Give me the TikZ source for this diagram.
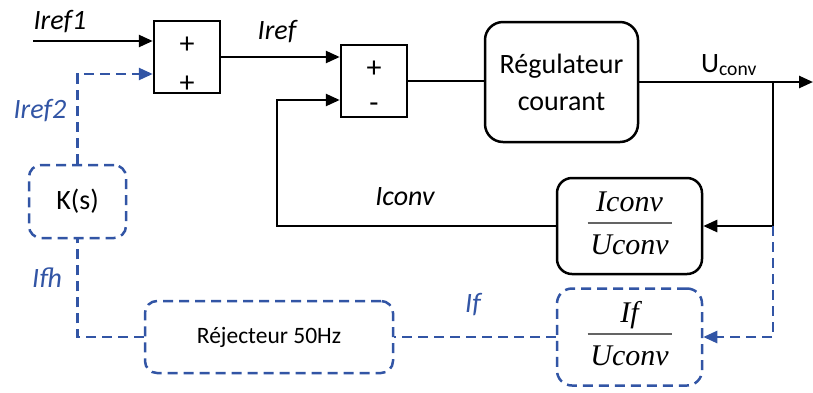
\documentclass[tikz,border=0pt]{standalone}
\usepackage{fontspec}
\setmainfont{Carlito}
\newfontfamily\fracfont{Liberation Serif}
\usetikzlibrary{arrows.meta, positioning}

\definecolor{dblue}{RGB}{50,85,165}
\definecolor{bargray}{RGB}{100,100,100}

\newcommand{\lblsize}{\fontsize{28}{34}\selectfont}
% fraction with a grey bar, as in the transfer blocks
\newcommand{\bfrac}[2]{{\fontsize{30}{36}\selectfont\fracfont\itshape
	\renewcommand{\arraystretch}{0}%
	\begin{tabular}{@{}c@{}}
		\rule[-10pt]{0pt}{32pt}#1\\
		\textcolor{bargray}{\rule{84pt}{2pt}}\\
		\rule[-8pt]{0pt}{39pt}#2
	\end{tabular}}}

\begin{document}
\begin{tikzpicture}[
		x=1pt, y=-1pt,
		line width=2.5pt,
		font=\lblsize,
		sumbox/.style={draw, minimum width=66pt, minimum height=72pt, inner sep=0pt},
		regbox/.style={draw, rounded corners=18pt, align=center, inner sep=0pt},
		dblk/.style={draw=dblue, dash pattern=on 10pt off 6pt, rounded corners=12pt, align=center, inner sep=0pt},
		sign/.style={font=\fontsize{30}{34}\selectfont, inner sep=0pt},
		lbl/.style={font=\lblsize\itshape, anchor=base, inner sep=0pt},
		blbl/.style={lbl, text=dblue},
		arr/.style={-{Triangle[length=14pt,width=12pt]}},
		dline/.style={color=dblue, dash pattern=on 10pt off 6pt},
		darr/.style={dline, arr}
		]
		
		\useasboundingbox (0,0) rectangle (813,392);
		
		% Summing points
		\node[sumbox] (sum1) at (187,57) {};
		\node[sumbox] (sum2) at (374,81) {};
		\node[sign] (p11) at (187,45) {+};
		\node[sign] (p12) at (187,84) {+};
		\node[sign] (p21) at (374,69) {+};
		\node[sign] (m22) at (374,108) {-};
		
		% Controller and transfer blocks
		\node[regbox, minimum width=153pt, minimum height=120pt, font=\fontsize{28}{37}\selectfont] (reg) at (561.5,82) {Régulateur\\courant};
		\node[regbox, rounded corners=15pt, minimum width=145pt, minimum height=96pt] (ibox) at (629.5,226) {\bfrac{Iconv}{Uconv}};
		
		% Harmonic branch (dashed)
		\node[dblk, rounded corners=15pt, minimum width=145pt, minimum height=97pt] (fbox) at (629.5,337) {\bfrac{If}{Uconv}};
		\node[dblk, minimum width=248pt, minimum height=72pt, font=\fontsize{23.5}{28}\selectfont] (rej) at (269,337) {Réjecteur 50Hz};
		\node[dblk, minimum width=97pt, minimum height=73pt] (kbox) at (77.5,201.5) {K(s)};
		
		\coordinate (in1) at (33,41);
		\coordinate (fb) at (277,226);
		\coordinate (br) at (773,82);
		\coordinate (out) at (813,82);
		
		% Main loop
		\draw[arr] (in1) -- (in1 -| sum1.west);
		\draw[arr] (sum1.east) -- (sum1.east -| sum2.west);
		\draw (sum2.east) -- (sum2.east -| reg.west);
		\draw[arr] (reg.east) -- (out);
		\draw[arr] (br) |- (ibox.east);
		\draw[arr] (ibox.west) -- (fb) |- ([yshift=-19pt]sum2.west);
		
		% Dashed loop
		\draw[darr] (br |- ibox.east) |- (fbox.east);
		\draw[dline] (fbox.west) -- (rej.east);
		\draw[dline] (rej.west) -| (kbox.south);
		\draw[darr] (kbox.north) |- ([yshift=-17pt]sum1.west);
		
		% Signal names
		\node[lbl] (lref1) at (60,29.5) {Iref1};
		\node[lbl] (lref) at (277,39) {Iref};
		\node[lbl] (lconv) at (405,205) {Iconv};
		\node[lbl, font=\lblsize] (lu) at (729,72) {U\textsubscript{conv}};
		\node[blbl] (lref2) at (40,118) {Iref2};
		\node[blbl] (lfh) at (47,287) {Ifh};
		\node[blbl] (lf) at (473,312) {If};
		
	\end{tikzpicture}
\end{document}
